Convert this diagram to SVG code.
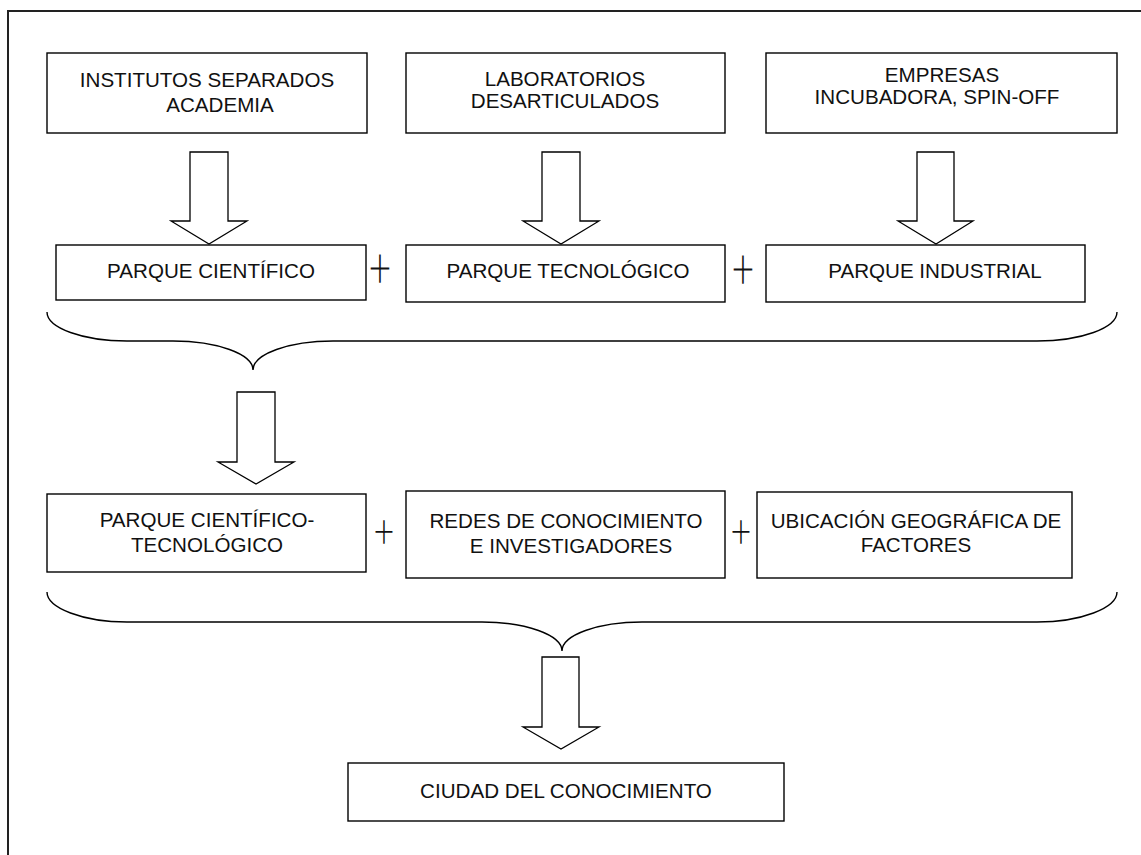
<svg xmlns="http://www.w3.org/2000/svg" width="1141" height="855" viewBox="0 0 1141 855">
<style>
.box{fill:#fff;stroke:#000;stroke-width:1.4}
.t{font-family:"Liberation Sans",Arial,sans-serif;font-size:20.6px;fill:#111;text-anchor:middle}
.arr{fill:#fff;stroke:#000;stroke-width:1.3;stroke-linejoin:miter}
.br{fill:none;stroke:#000;stroke-width:1.4}
.plus{font-family:Lato,"DejaVu Sans",sans-serif;font-weight:300;fill:#111;text-anchor:middle;text-rendering:geometricPrecision}
.frame{fill:none;stroke:#222;stroke-width:2}
</style>
<rect width="1141" height="855" fill="#fff"/>
<path class="frame" d="M8,855 V11 H1141"/>

<g id="n1"><rect class="box" x="47" y="53" width="320" height="80"/>
<text class="t" x="207" y="87">INSTITUTOS SEPARADOS</text><text class="t" x="220" y="112">ACADEMIA</text></g>
<g id="n2"><rect class="box" x="406" y="53" width="319" height="80"/>
<text class="t" x="565" y="86">LABORATORIOS</text><text class="t" x="565" y="108">DESARTICULADOS</text></g>
<g id="n3"><rect class="box" x="766" y="53" width="351" height="80"/>
<text class="t" x="942" y="82">EMPRESAS</text><text class="t" x="937" y="104">INCUBADORA, SPIN-OFF</text></g>

<g id="n4"><rect class="box" x="56" y="245" width="310" height="55"/>
<text class="t" x="211" y="278">PARQUE CIENTÍFICO</text></g>
<g id="n5"><rect class="box" x="406" y="245" width="319" height="57"/>
<text class="t" x="568" y="278">PARQUE TECNOLÓGICO</text></g>
<g id="n6"><rect class="box" x="766" y="245" width="319" height="57"/>
<text class="t" x="935" y="278">PARQUE INDUSTRIAL</text></g>

<g id="n7"><rect class="box" x="47" y="494" width="319" height="78"/>
<text class="t" x="207" y="527">PARQUE CIENTÍFICO-</text><text class="t" x="207" y="552">TECNOLÓGICO</text></g>
<g id="n8"><rect class="box" x="406" y="491" width="319" height="87"/>
<text class="t" x="566" y="528">REDES DE CONOCIMIENTO</text><text class="t" x="571" y="553">E INVESTIGADORES</text></g>
<g id="n9"><rect class="box" x="757" y="492" width="315" height="86"/>
<text class="t" x="916" y="528">UBICACIÓN GEOGRÁFICA DE</text><text class="t" x="916" y="552">FACTORES</text></g>

<g id="n10"><rect class="box" x="348" y="763" width="436" height="58"/>
<text class="t" x="566" y="798">CIUDAD DEL CONOCIMIENTO</text></g>

<g id="plus">
<text class="plus" transform="translate(380,268) scale(0.68,1)" y="20" font-size="58">+</text>
<text class="plus" transform="translate(743,269) scale(0.68,1)" y="20" font-size="58">+</text>
<text class="plus" transform="translate(384,532) scale(0.75,1)" y="16" font-size="48">+</text>
<text class="plus" transform="translate(741,532) scale(0.75,1)" y="16" font-size="48">+</text>
</g>

<g id="connectors">
<polygon class="arr" points="190,152 228,152 228,221 247,221 209,244 171,221 190,221"/>
<polygon class="arr" points="542,152 580,152 580,221 599,221 561,244 523,221 542,221"/>
<polygon class="arr" points="917,152 954,152 954,221 973,221 936,244 898,221 917,221"/>
<polygon class="arr" points="237,392 275,392 275,462 294,462 256,484 218,462 237,462"/>
<polygon class="arr" points="542,657 579,657 579,727 599,727 561,749 523,727 542,727"/>
<path class="br" d="M47,312 C47,328 83,341 127,341 H173 C217,341 253,354 253,370 C253,354 289,341 333,341 H1037 C1081,341 1117,328 1117,312"/>
<path class="br" d="M47,592 C47,608 83,622 127,622 H482 C526,622 562,635 562,651 C562,635 598,622 642,622 H1037 C1081,622 1117,608 1117,592"/>
</g>
</svg>
